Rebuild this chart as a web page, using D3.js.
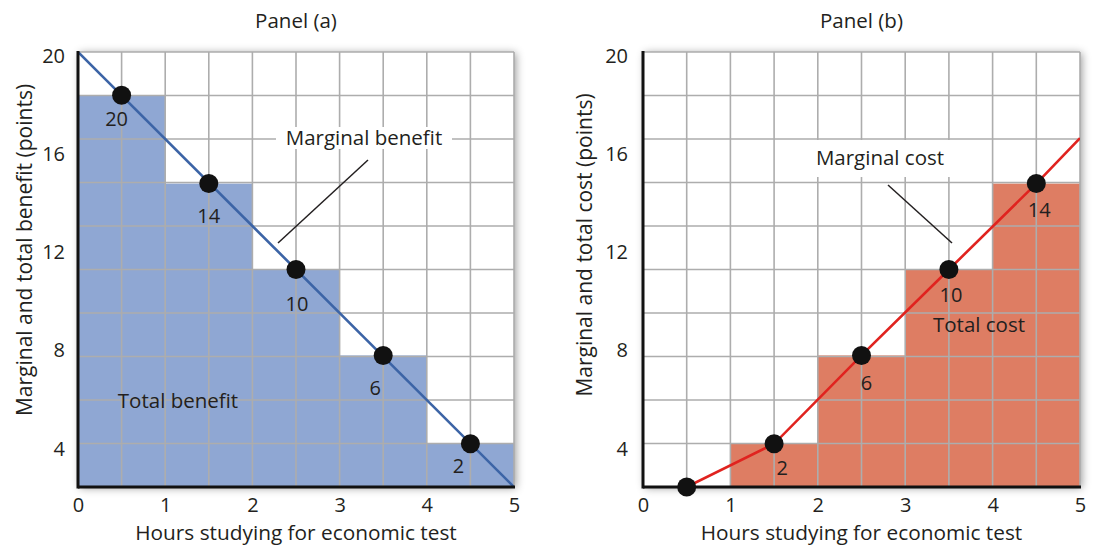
<!DOCTYPE html>
<html><head><meta charset="utf-8">
<script src="https://cdn.jsdelivr.net/npm/d3@7"></script>
<style>
body{margin:0;background:#fff}
text{font-family:"Open Sans",sans-serif;fill:#231f20}
</style>
</head><body>
<svg id="chart" width="1093" height="548"></svg>
<script>
// ---------- data ----------
const hourTicks = [0, 1, 2, 3, 4, 5];
const yTickValues = [4, 8, 12, 16, 20];
const yDomain = [2.44, 20.16];           // visible value range of the vertical axis
const gridRows = 10;                      // grid squares vertically
const gridCols = 10;                      // grid squares horizontally (half hours)

// Panel (a)
const benefitHours = [0.5, 1.5, 2.5, 3.5, 4.5];
const totalBenefitBars = [18.4, 14.8, 11.3, 7.8, 4.2];
const marginalBenefitLabels = ["20", "14", "10", "6", "2"];
const mbLineX = [0, 5];
const mbLineY = [20.16, 2.44];

// Panel (b)
const costHours = [0.5, 1.5, 2.5, 3.5, 4.5];
const totalCostBars = [null, 4.2, 7.8, 11.3, 14.8];
const marginalCostPoints = [2.44, 4.2, 7.8, 11.3, 14.8];
const marginalCostLabels = [null, "2", "6", "10", "14"];
const mcLineX = [0.5, 1.5, 2.5, 3.5, 4.5, 5];
const mcLineY = [2.44, 4.2, 7.8, 11.3, 14.8, 16.65];

// ---------- layout ----------
const plotTop = 52, plotBottom = 487;
const svg = d3.select("#chart");

const defs = svg.append("defs");
const f = defs.append("filter").attr("id", "shadow")
  .attr("x", "-10%").attr("y", "-10%").attr("width", "120%").attr("height", "120%");
f.append("feDropShadow").attr("dx", 2).attr("dy", 1).attr("stdDeviation", 4)
  .attr("flood-color", "#000").attr("flood-opacity", 0.4);

function drawPanel(o) {
  const x = d3.scaleLinear().domain([0, 5]).range([o.left, o.right]);
  const y = d3.scaleLinear().domain(yDomain).range([plotBottom, plotTop]);
  const gx = d3.scaleLinear().domain([0, gridCols]).range([o.left, o.right]);
  const gy = d3.scaleLinear().domain([0, gridRows]).range([plotBottom, plotTop]);
  const g = svg.append("g");
  const clipId = "clip" + o.id;
  defs.append("clipPath").attr("id", clipId).append("rect")
    .attr("x", o.left).attr("y", plotTop).attr("width", o.right - o.left).attr("height", plotBottom - plotTop);

  g.append("rect").attr("x", o.left).attr("y", plotTop)
    .attr("width", o.right - o.left).attr("height", plotBottom - plotTop)
    .attr("fill", "#fff").attr("filter", "url(#shadow)");

  g.append("g").selectAll("rect")
    .data(o.bars.map((v, i) => ({v, i})).filter(d => d.v != null))
    .join("rect")
    .attr("x", d => x(d.i)).attr("width", d => x(d.i + 1) - x(d.i))
    .attr("y", d => y(d.v)).attr("height", d => y(yDomain[0]) - y(d.v))
    .attr("fill", o.barColor);

  const grid = g.append("g").attr("stroke", "#adadad").attr("stroke-width", 1.6);
  grid.selectAll("line.v").data(gx.ticks(gridCols).filter(d => d > 0))
    .join("line").attr("class", "v")
    .attr("x1", d => gx(d)).attr("x2", d => gx(d)).attr("y1", plotTop).attr("y2", plotBottom);
  grid.selectAll("line.h").data(gy.ticks(gridRows).filter(d => d > 0))
    .join("line").attr("class", "h")
    .attr("y1", d => gy(d)).attr("y2", d => gy(d)).attr("x1", o.left).attr("x2", o.right);

  const ann = o.annotation;
  g.append("rect").attr("x", ann.box[0]).attr("y", ann.box[1])
    .attr("width", ann.box[2]).attr("height", ann.box[3]).attr("fill", "#fff");
  g.append("text").attr("x", ann.x).attr("y", ann.y).attr("dy", "0.35em")
    .attr("text-anchor", "middle").style("font-size", "20.5px").text(ann.text);
  g.append("line").attr("x1", ann.leader[0]).attr("y1", ann.leader[1])
    .attr("x2", ann.leader[2]).attr("y2", ann.leader[3])
    .attr("stroke", "#231f20").attr("stroke-width", 1.5);

  g.append("text").attr("x", o.areaLabel.x).attr("y", o.areaLabel.y).attr("dy", "0.35em")
    .attr("text-anchor", "middle").style("font-size", "20.5px").text(o.areaLabel.text);

  const lineData = o.lineX.map((v, i) => [v, o.lineY[i]]);
  g.append("path").datum(lineData)
    .attr("clip-path", `url(#${clipId})`)
    .attr("d", d3.line().x(d => x(d[0])).y(d => y(d[1])))
    .attr("fill", "none").attr("stroke", o.lineColor).attr("stroke-width", 2.6);

  const yAxis = d3.axisLeft(y).tickValues(yTickValues).tickSize(0).tickPadding(o.yPad);
  const ya = g.append("g").attr("transform", `translate(${o.left},0)`).call(yAxis);
  ya.select(".domain").remove();
  ya.attr("font-family", null).attr("font-size", null);
  ya.selectAll("text").style("font-size", "20px");
  const xAxis = d3.axisBottom(x).tickValues(hourTicks).tickFormat(d3.format("d")).tickSize(0).tickPadding(11);
  const xa = g.append("g").attr("transform", `translate(0,${plotBottom})`).call(xAxis);
  xa.select(".domain").remove();
  xa.attr("font-family", null).attr("font-size", null);
  xa.selectAll("text").style("font-size", "20px");
  g.append("line").attr("x1", o.left).attr("x2", o.left).attr("y1", plotTop - 1).attr("y2", plotBottom + 1.5)
    .attr("stroke", "#111").attr("stroke-width", 3);
  g.append("line").attr("x1", o.left).attr("x2", o.right + 1).attr("y1", plotBottom).attr("y2", plotBottom)
    .attr("stroke", "#111").attr("stroke-width", 3);

  const pts = o.pointX.map((v, i) => ({x: v, y: o.pointY[i], label: o.pointLabels[i], off: o.labelOffsets[i]}));
  g.append("g").selectAll("circle").data(pts).join("circle")
    .attr("cx", d => x(d.x)).attr("cy", d => y(d.y)).attr("r", 9.5).attr("fill", "#111");
  g.append("g").selectAll("text").data(pts.filter(d => d.label != null)).join("text")
    .attr("x", d => x(d.x) + d.off[0]).attr("y", d => y(d.y) + d.off[1]).attr("dy", "0.35em")
    .attr("text-anchor", "middle").style("font-size", "20px").text(d => d.label);

  g.append("text").attr("x", (o.left + o.right) / 2).attr("y", 21).attr("dy", "0.35em")
    .attr("text-anchor", "middle").style("font-size", "20.5px").text(o.title);
  g.append("text").attr("x", (o.left + o.right) / 2).attr("y", 533).attr("dy", "0.35em")
    .attr("text-anchor", "middle").style("font-size", "20.8px").text("Hours studying for economic test");
  g.append("text").attr("transform", `translate(${o.ytitleX},${o.ytitleY}) rotate(-90)`)
    .attr("dy", "0.35em").attr("text-anchor", "middle").style("font-size", "21px").text(o.yTitle);
}

drawPanel({
  id: "a", left: 78, right: 514, title: "Panel (a)",
  yTitle: "Marginal and total benefit (points)", ytitleX: 25, ytitleY: 250, yPad: 13,
  bars: totalBenefitBars, barColor: "#8fa7d3",
  lineX: mbLineX, lineY: mbLineY, lineColor: "#3c64a6",
  pointX: benefitHours, pointY: totalBenefitBars, pointLabels: marginalBenefitLabels,
  labelOffsets: [[-5, 24], [0, 32], [1, 34], [-8, 33], [-12, 22]],
  annotation: {text: "Marginal benefit", x: 364, y: 138, box: [276, 127, 176, 22], leader: [368, 160, 278, 243]},
  areaLabel: {text: "Total benefit", x: 178, y: 401}
});

drawPanel({
  id: "b", left: 643, right: 1080, title: "Panel (b)",
  yTitle: "Marginal and total cost (points)", ytitleX: 585, ytitleY: 245, yPad: 15,
  bars: totalCostBars, barColor: "#de7d63",
  lineX: mcLineX, lineY: mcLineY, lineColor: "#e0231f",
  pointX: costHours, pointY: marginalCostPoints, pointLabels: marginalCostLabels,
  labelOffsets: [[0, 0], [8, 24], [5, 28], [2, 25], [3, 26]],
  annotation: {text: "Marginal cost", x: 880, y: 158, box: [810, 140, 142, 37], leader: [888, 185, 952, 243]},
  areaLabel: {text: "Total cost", x: 979, y: 325}
});
</script>
</body></html>
